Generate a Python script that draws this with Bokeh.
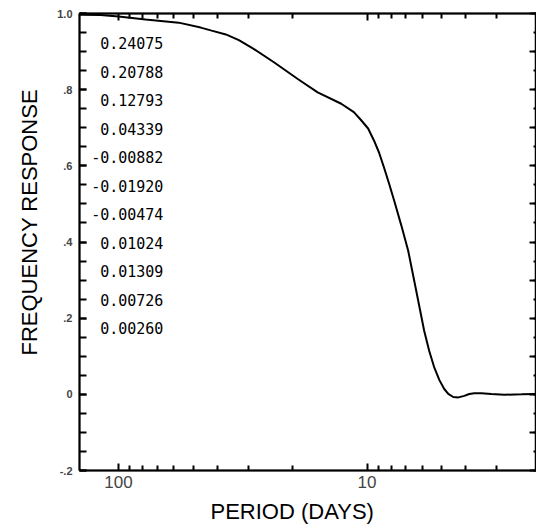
import numpy as np
from bokeh.plotting import figure
from bokeh.models import (Range1d, FixedTicker, LinearAxis, LogAxis, Title,
                          ColumnDataSource, CustomJSTickFormatter)
from bokeh.core.properties import value
from bokeh.embed import file_html
from bokeh.resources import INLINE

# ---- data ----
period = [143.6, 118.2, 100, 77.8, 57.3, 46.7, 42.2, 37.0, 32.8, 28.6, 23.7,
          19.0, 15.8, 12.7, 11.3, 10.6, 9.9, 9.37, 8.95, 8.54, 8.15, 7.78,
          7.29, 6.83, 6.34, 5.89, 5.62, 5.36, 5.12, 4.89, 4.71, 4.50, 4.29,
          4.06, 3.88, 3.70, 3.47, 3.16, 2.80, 2.39, 2.08]
response = [0.997, 0.996, 0.992, 0.984, 0.976, 0.963, 0.955, 0.945, 0.930,
            0.907, 0.872, 0.828, 0.793, 0.763, 0.741, 0.721, 0.698, 0.666,
            0.635, 0.595, 0.553, 0.509, 0.445, 0.377, 0.272, 0.167, 0.114,
            0.070, 0.038, 0.014, 0.001, -0.007, -0.008, -0.004, 0.001, 0.003,
            0.003, 0.001, -0.001, 0.000, 0.001]
weights = [0.24075, 0.20788, 0.12793, 0.04339, -0.00882, -0.01920, -0.00474,
           0.01024, 0.01309, 0.00726, 0.00260]
y_ticks = [-0.2, 0.0, 0.2, 0.4, 0.6, 0.8, 1.0]
y_tick_labels = ["-.2", "0", ".2", ".4", ".6", ".8", "1.0"]
x_ticks = [10, 100]
x_tick_labels = ["10", "100"]
x_minor = [2, 3, 4, 5, 6, 7, 8, 9, 20, 30, 40, 50, 60, 70, 80, 90, 200]
x_title = "PERIOD (DAYS)"
y_title = "FREQUENCY RESPONSE"

p = figure(width=536, height=529, x_axis_type="log",
           x_range=Range1d(143.6, 2.08), y_range=Range1d(-0.2, 1.0),
           output_backend="svg", toolbar_location=None, min_border=0,
           min_border_left=79, min_border_right=0, min_border_top=13,
           min_border_bottom=59)
p.background_fill_color = "white"
p.border_fill_color = "white"
p.outline_line_color = "black"
p.outline_line_width = 1.5
p.xgrid.visible = False
p.ygrid.visible = False

y_minor = [round(-0.2 + 0.05 * i, 2) for i in range(25)]
y_tenths = [round(-0.2 + 0.1 * i, 2) for i in range(13)]

def style(ax):
    ax.axis_line_color = "black"
    ax.axis_line_width = 2
    ax.major_tick_line_width = 2
    ax.minor_tick_line_width = 2
    ax.major_tick_out = 0
    ax.minor_tick_out = 0
    ax.major_tick_in = 7
    ax.minor_tick_in = 5

def ticks_only(ax):
    ax.formatter = CustomJSTickFormatter(code="return ''")
    ax.major_label_standoff = -5
    ax.major_label_text_font_size = "0px"

# bottom axis
xa = p.xaxis[0]
xa.ticker = FixedTicker(ticks=x_ticks, minor_ticks=x_minor)
xa.major_label_overrides = dict(zip(x_ticks, x_tick_labels))
xa.major_label_text_font = "Liberation Sans"
xa.major_label_text_font_size = "17px"
xa.major_label_standoff = 5
style(xa)

# left axis
ya = p.yaxis[0]
ya.ticker = FixedTicker(ticks=y_ticks, minor_ticks=y_minor)
ya.major_label_overrides = dict(zip(y_ticks, y_tick_labels))
ya.major_label_text_font = "Liberation Sans"
ya.major_label_text_font_style = "bold"
ya.major_label_text_font_size = "11px"
ya.major_label_standoff = 7
style(ya)
ya.minor_tick_in = 7

# top axis (ticks only)
ta = LogAxis(ticker=FixedTicker(ticks=x_ticks, minor_ticks=x_minor))
style(ta)
ticks_only(ta)
p.add_layout(ta, "above")

# right axis (ticks only)
ra = LinearAxis(ticker=FixedTicker(ticks=y_tenths, minor_ticks=y_minor))
style(ra)
ticks_only(ra)
ra.minor_tick_in = 3
p.add_layout(ra, "right")

# curve
p.line(period, response, line_color="black", line_width=2)

# filter weights list
n = len(weights)
src = ColumnDataSource(dict(
    x=[66.0] * n,
    y=[0.9225 - 0.0749 * i for i in range(n)],
    t=[f"{w:.5f}" for w in weights],
))
p.text(x="x", y="y", text="t", source=src, text_font=value("DejaVu Sans Mono"),
       text_font_size="15px", text_align="right", text_baseline="middle",
       text_color="black")

# axis titles
p.add_layout(Title(text=y_title, align="left", offset=115, standoff=26,
                   vertical_align="bottom", text_font="Liberation Sans",
                   text_font_style="normal", text_font_size="22px",
                   text_color="black"), "left")
p.add_layout(Title(text=x_title, align="left", offset=131, standoff=12,
                   vertical_align="bottom", text_font="Liberation Sans",
                   text_font_style="normal", text_font_size="22px",
                   text_color="black"), "below")

open("out.html", "w").write(file_html(p, INLINE))
